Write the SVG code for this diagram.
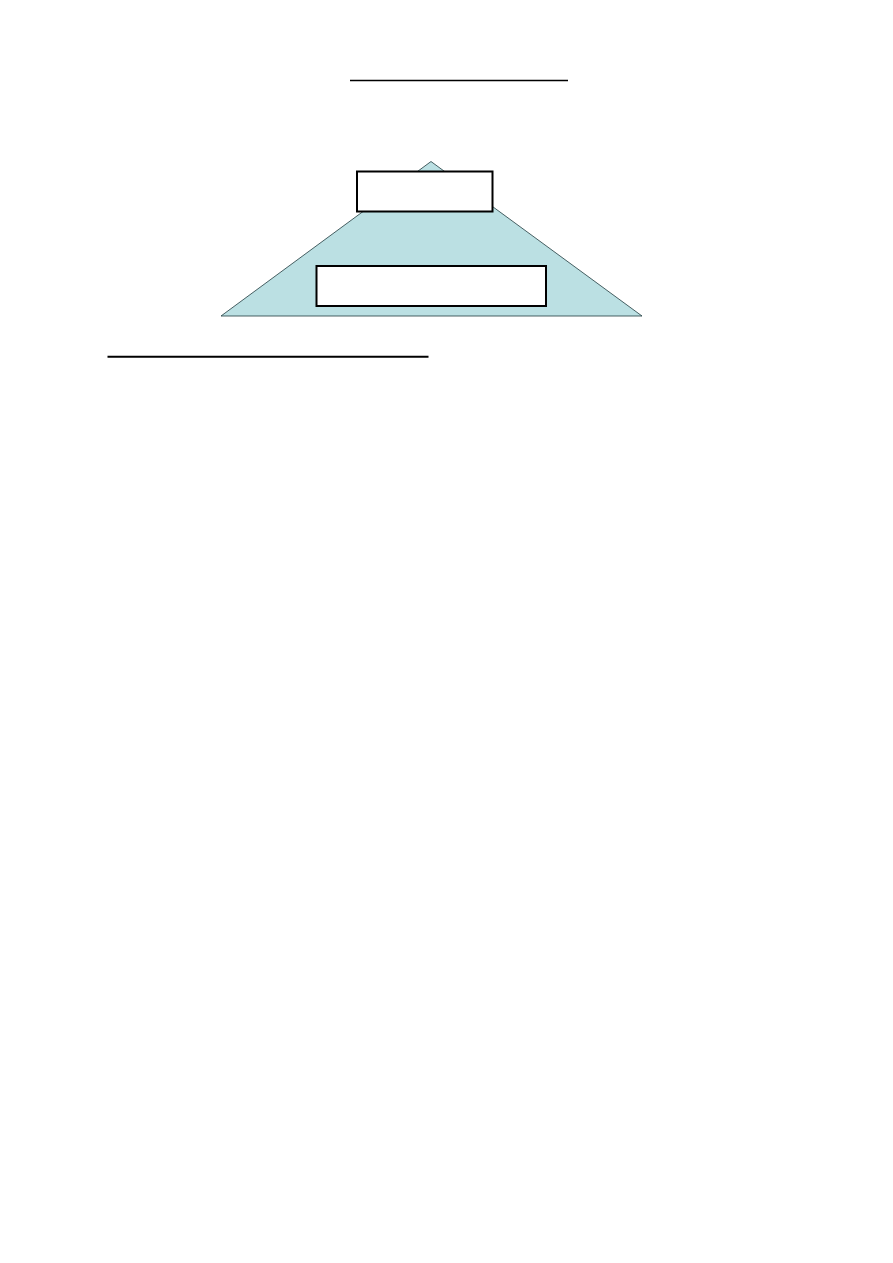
<svg xmlns="http://www.w3.org/2000/svg" width="893" height="1263" viewBox="0 0 893 1263">
<style>
.box{fill:#ffffff;stroke:#000000;stroke-width:2}
.rule{stroke:#000000;fill:none}
</style>
<rect x="0" y="0" width="893" height="1263" fill="#ffffff"/>
<line class="rule" x1="350" y1="80.5" x2="568" y2="80.5" stroke-width="1.3"/>
<g id="pyramid">
<polygon points="431,161.5 642,316 221,316" fill="#bbe0e3" stroke="#1f3a3d" stroke-width="0.8"/>
</g>
<g id="node-top">
<rect class="box" x="357" y="171.5" width="135.5" height="40"/>
</g>
<g id="node-bottom">
<rect class="box" x="316.5" y="266" width="229.5" height="40"/>
</g>
<g id="connectors"></g>
<line class="rule" x1="107.5" y1="356.7" x2="428.5" y2="356.7" stroke-width="2"/>
</svg>
